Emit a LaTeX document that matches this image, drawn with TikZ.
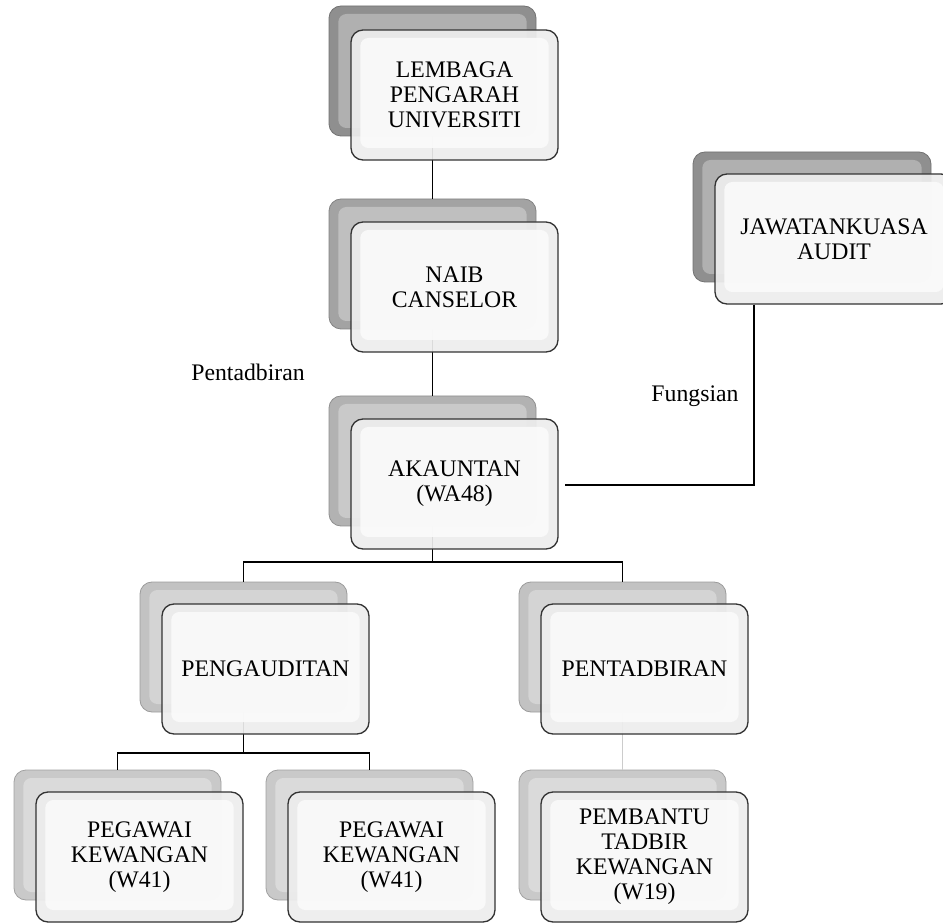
\documentclass[tikz,border=0pt]{standalone}
\usepackage{fontspec}
\setmainfont{Liberation Serif}
\usepackage{tikz}
\usetikzlibrary{calc}
\usepackage{xcolor}
\definecolor{kelabuA}{gray}{0.56}
\definecolor{kelabuB}{gray}{0.64}
\definecolor{kelabuC}{gray}{0.70}
\definecolor{kelabuD}{gray}{0.76}
\definecolor{kelabuE}{gray}{0.79}
\newcommand{\hurufKotak}{\fontsize{17.8}{18.8}\selectfont}
\tikzset{
    belakang/.style = {rounded corners=9pt, fill=#1, draw=#1!80!black, line width=0.6pt,
        minimum width=155.25pt, minimum height=97.5pt, inner sep=0pt,
        path picture={\fill[#1!70!white, rounded corners=6pt]
            ([shift={(7pt,-6pt)}]path picture bounding box.north west) rectangle
            ([shift={(-7pt,6pt)}]path picture bounding box.south east);}},
    depan/.style = {rounded corners=9pt, draw=gray!40!black, line width=1pt, fill=gray!14,
        fill opacity=0.92, text opacity=1, minimum width=155.25pt, minimum height=97.5pt,
        inner sep=0pt, align=center, font=\hurufKotak,
        path picture={\fill[gray!4, rounded corners=6pt]
            ([shift={(7pt,-6pt)}]path picture bounding box.north west) rectangle
            ([shift={(-7pt,9pt)}]path picture bounding box.south east);}},
    garis/.style = {line width=0.9pt, black},
    label/.style = {font=\hurufKotak},
}

\begin{document}
\begin{tikzpicture}[x=0.75pt, y=-0.75pt]
    % batas gambar
    \clip (0,0) rectangle (943,923);
    % kotak belakang
    \node[belakang=kelabuA] (lembagaB) at (432.5,71) {};
    \node[belakang=kelabuB] (naibB) at (432.5,264) {};
    \node[belakang=kelabuC] (akauntanB) at (432.5,461) {};
    \node[belakang=kelabuA, minimum width=178.5pt] (jawatanB) at (812,217) {};
    \node[belakang=kelabuD] (pengauditanB) at (243.5,647) {};
    \node[belakang=kelabuD] (pentadbiranB) at (622.5,647) {};
    \node[belakang=kelabuE] (pegawaiSatuB) at (117.5,835) {};
    \node[belakang=kelabuE] (pegawaiDuaB) at (369.5,835) {};
    \node[belakang=kelabuE] (pembantuB) at (622.5,835) {};
    % titik cabang
    \coordinate (cabangAtas) at (432.5,562);
    \coordinate (cabangBawah) at (243.5,753);
    \coordinate (sudut) at (754,485);
    % garis penghubung
    \draw[garis] (lembagaB) -- (naibB);
    \draw[garis] (naibB) -- (akauntanB);
    \draw[garis] (akauntanB) -- (cabangAtas);
    \draw[garis] (pengauditanB.north) |- (cabangAtas) -| (pentadbiranB.north);
    \draw[garis] (pengauditanB) -- (cabangBawah);
    \draw[garis] (pegawaiSatuB.north) |- (cabangBawah) -| (pegawaiDuaB.north);
    \draw[garis, gray!40] (pentadbiranB) -- (pembantuB);
    % kotak depan
    \node[depan] (lembaga) at (454.5,95) {LEMBAGA\\PENGARAH\\UNIVERSITI};
    \node[depan] (naib) at (454.5,287) {NAIB\\CANSELOR};
    \node[depan] (akauntan) at (454.5,484) {AKAUNTAN\\(WA48)};
    \node[depan, minimum width=178.5pt] (jawatan) at (834,239) {JAWATANKUASA\\AUDIT};
    \node[depan] (pengauditan) at (265.5,669) {PENGAUDITAN};
    \node[depan] (pentadbiran) at (644.5,669) {PENTADBIRAN};
    \node[depan] (pegawaiSatu) at (139.5,857) {PEGAWAI\\KEWANGAN\\(W41)};
    \node[depan] (pegawaiDua) at (391.5,857) {PEGAWAI\\KEWANGAN\\(W41)};
    \node[depan] (pembantu) at (644.5,857) {PEMBANTU\\TADBIR\\KEWANGAN\\(W19)};
    % garis fungsian
    \draw[garis] (jawatan.south -| sudut) |- ([xshift=5pt]akauntan.east |- sudut);
    % label
    \node[label] (labelPentadbiran) at (248,372) {Pentadbiran};
    \node[label] (labelFungsian) at (695,396) {Fungsian};
\end{tikzpicture}
\end{document}
